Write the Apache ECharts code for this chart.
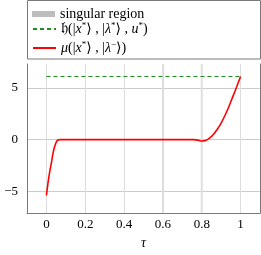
<!DOCTYPE html>
<html>
<head>
<meta charset="utf-8">
<script src="https://cdn.jsdelivr.net/npm/echarts@6/dist/echarts.min.js"></script>
<style>html,body{margin:0;padding:0;background:#fff}#c{width:261px;height:255px}</style>
</head>
<body>
<div id="c"></div>
<script>
// ---- data ----
const tau = [0, 0.008, 0.017, 0.026, 0.034, 0.043, 0.052, 0.06, 0.07, 0.76, 0.78, 0.8, 0.82, 0.84, 0.86, 0.88, 0.9, 0.92, 0.94, 0.96, 0.98, 1.0];
const mu  = [-5.4, -4.2, -3.1, -2.2, -1.3, -0.65, -0.2, -0.04, 0, 0, -0.05, -0.13, -0.08, 0.15, 0.5, 1.0, 1.6, 2.35, 3.2, 4.15, 5.1, 6.1];
const hTau = [0, 1];
const hVal = [6.1, 6.1];
const singularRegions = [[0.595, 0.605], [0.795, 0.805]];
const xTicks = [0, 0.2, 0.4, 0.6, 0.8, 1];
const yTicks = [-5, 0, 5];
const legendNames = ['singular region', 'h', 'mu'];

const serif = "'Liberation Serif', 'DejaVu Serif', serif";
const chart = echarts.init(document.getElementById('c'), null, {renderer: 'canvas'});

const rich = {
  n: {fontFamily: serif, fontSize: 14, color: '#000'},
  f: {fontFamily: serif, fontSize: 16, color: '#000'},
  i: {fontFamily: serif, fontSize: 14, fontStyle: 'italic', color: '#000'},
  s: {fontFamily: serif, fontSize: 9, color: '#000', padding: [0, 0, 6, 0]}
};
function legendFmt(name) {
  if (name === 'h') return '{f|𝔥}{n|(|}{i|x}{s|*}{n|⟩ , |}{i|λ}{s|*}{n|⟩ , }{i|u}{s|*}{n|)}';
  if (name === 'mu') return '{i|μ}{n|(|}{i|x}{s|*}{n|⟩ , |}{i|λ}{s|−}{n|⟩)}';
  return '{n|' + name + '}';
}
function mkLegend(item, top) {
  return {
    data: [item], left: 32, top: top, orient: 'vertical', padding: 0,
    itemWidth: 23, itemHeight: 6, selectedMode: false,
    itemStyle: {opacity: 0, borderWidth: 0},
    formatter: legendFmt,
    textStyle: {fontFamily: serif, fontSize: 14, color: '#000', lineHeight: 16, rich: rich}
  };
}

chart.setOption({
  animation: false,
  grid: {left: 27, right: 1, top: 64, bottom: 37, containLabel: false},
  legend: [
    mkLegend({name: legendNames[0], icon: 'rect', itemStyle: {color: '#bdbdbd', opacity: 1}}, 6),
    mkLegend({name: legendNames[1]}, 21),
    mkLegend({name: legendNames[2]}, 40)
  ],
  graphic: [{type: 'rect', shape: {x: 27.5, y: 0.5, width: 233, height: 58.5},
    style: {fill: 'none', stroke: '#7a7a7a', lineWidth: 1}, silent: true}],
  xAxis: {
    type: 'value', min: -0.1, max: 1.1,
    name: 'τ', nameLocation: 'middle', nameGap: 18,
    nameTextStyle: {fontFamily: serif, fontSize: 14, fontStyle: 'italic', color: '#000'},
    axisLine: {show: true, onZero: false, lineStyle: {color: '#7a7a7a', width: 1}},
    axisTick: {show: false, customValues: xTicks},
    axisLabel: {customValues: xTicks, fontFamily: serif, fontSize: 13, color: '#000', margin: 5,
      formatter: v => String(v)},
    splitLine: {show: true, lineStyle: {color: '#dddddd', width: 1}}
  },
  yAxis: [{
    type: 'value', min: -7.1, max: 7.3,
    axisLine: {show: true, onZero: false, lineStyle: {color: '#7a7a7a', width: 1}},
    axisTick: {show: false, customValues: yTicks},
    axisLabel: {customValues: yTicks, fontFamily: serif, fontSize: 13, color: '#000', margin: 9,
      formatter: v => v < 0 ? '−' + (-v) : String(v)},
    splitLine: {show: true, lineStyle: {color: '#cccccc', width: 1}}
  }, {
    type: 'value', min: -7.1, max: 7.3, position: 'right',
    axisLine: {show: true, onZero: false, lineStyle: {color: '#7a7a7a', width: 1}},
    axisTick: {show: false}, axisLabel: {show: false}, splitLine: {show: false}
  }],
  series: [
    {
      name: 'singular region', type: 'line', data: [], symbol: 'none',
      color: '#bdbdbd', itemStyle: {color: '#bdbdbd'},
      markArea: {silent: true, itemStyle: {color: '#dedede'},
        data: singularRegions.map(r => [{xAxis: r[0]}, {xAxis: r[1]}])}
    },
    {
      name: 'h', type: 'line', symbol: 'none', color: '#1e8c1e',
      lineStyle: {color: '#1e8c1e', width: 1.1, type: [4, 3]},
      data: hTau.map((t, k) => [t, hVal[k]])
    },
    {
      name: 'mu', type: 'line', symbol: 'none', color: '#ff0000', smooth: 0.2,
      lineStyle: {color: '#ff0000', width: 1.6},
      data: tau.map((t, k) => [t, mu[k]])
    }
  ]
});
</script>
</body>
</html>
